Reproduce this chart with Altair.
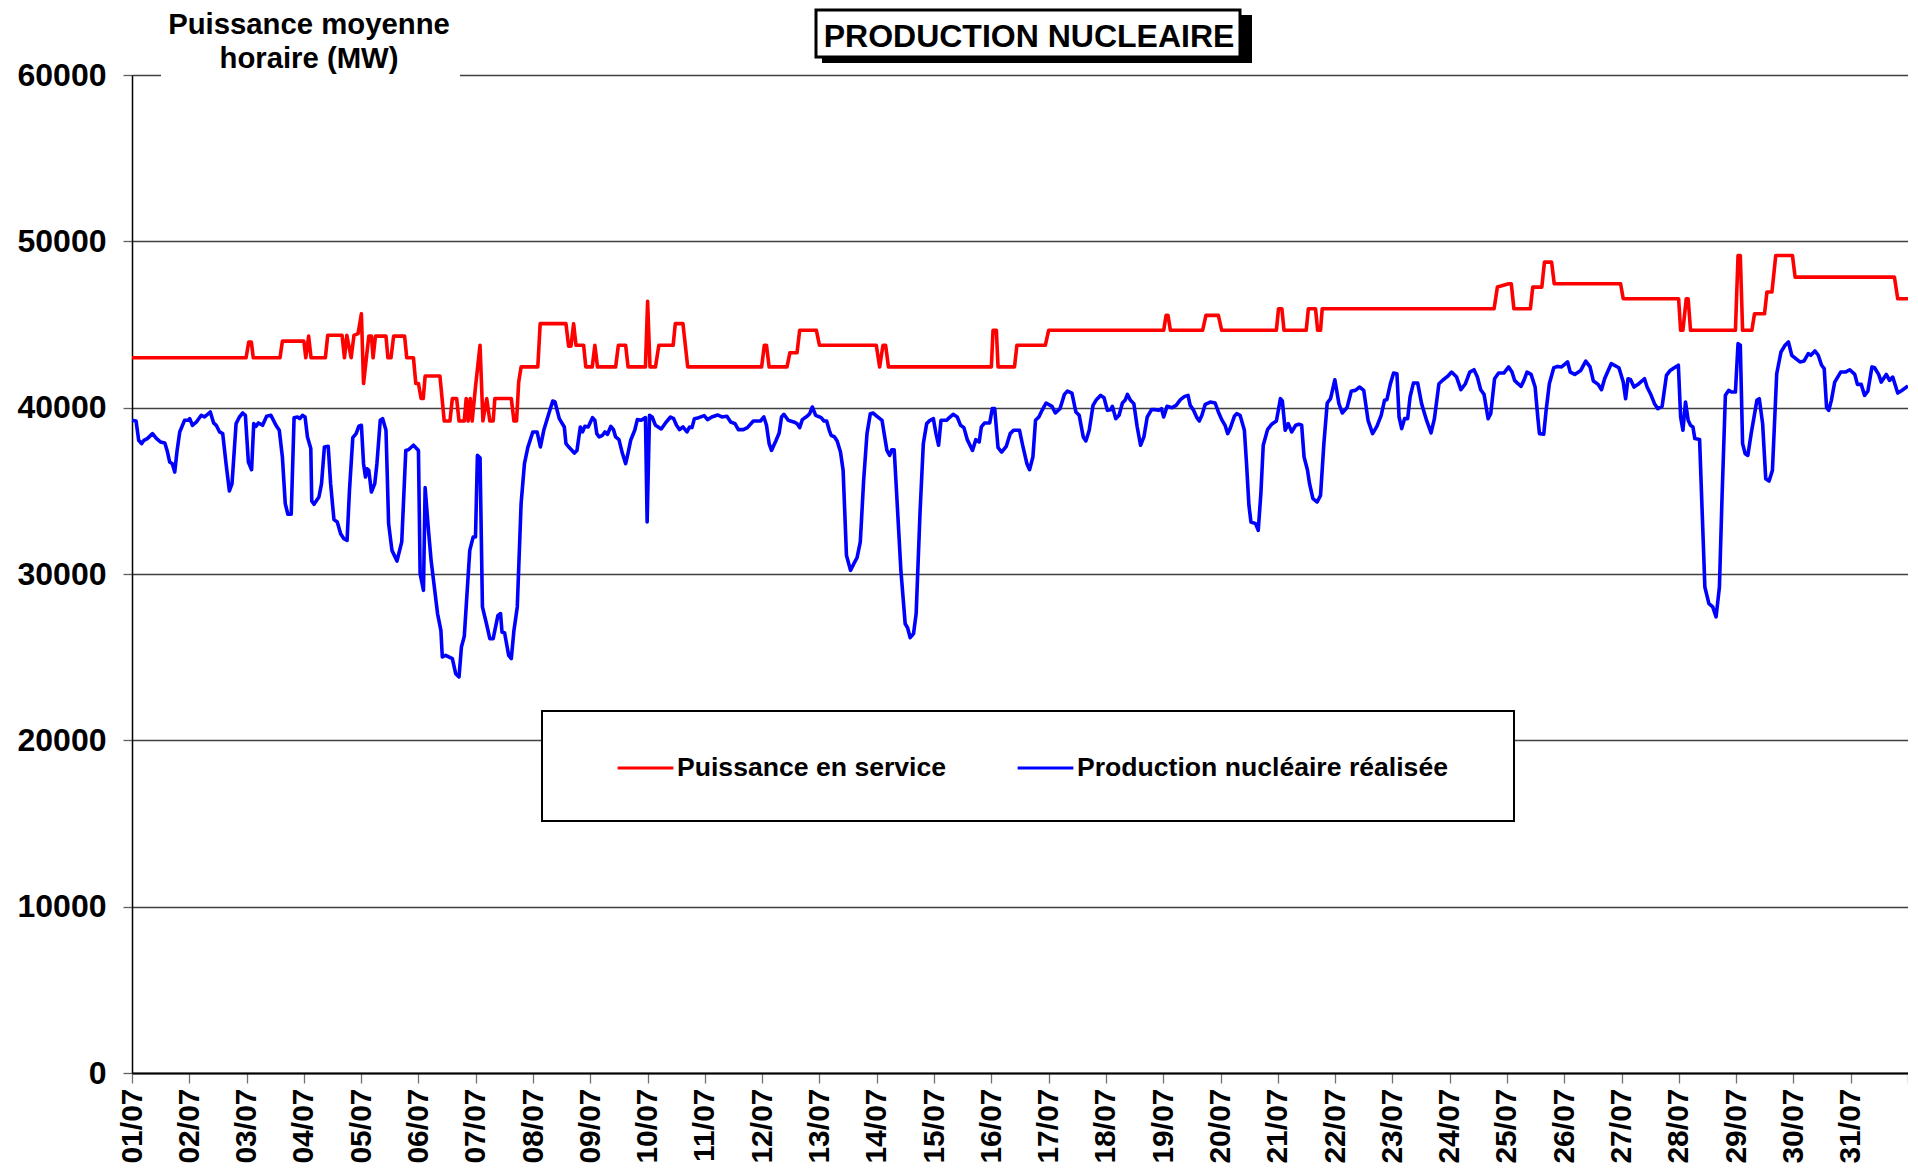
import altair as alt
import pandas as pd

# ---------------- data (hours since 01/07 00:00, MW) ----------------
RED_H = [0, 47.8, 48.9, 50, 50.8, 62, 63, 72, 72.8, 74, 75, 81, 82, 88, 89, 90, 91.8, 93, 94.7,
         96.1, 97, 99.2, 100.3, 101, 102, 106.4, 107.2, 108.5, 109.6, 114.2, 115.1, 117.9, 118.9,
         120, 121.1, 122, 122.8, 129, 130.8, 133.2, 134.2, 136, 137, 139.2, 140, 140.8, 141.7,
         142.5, 143.9, 145.8, 147, 148.6, 149.9, 151.3, 152, 158.9, 160, 161.1, 162, 163, 170,
         171, 181.8, 182.9, 183.9, 185, 186, 189.2, 190.1,
         192.8, 193.9, 195, 202.6, 203.75, 206.8, 207.8, 215.1, 216, 217, 219.3, 220.7, 226.7,
         227.6, 230.8, 232.8, 263.75, 264.9, 265.8, 266.9, 274.4, 275.6, 278.6, 279.7, 286.7, 288,
         311.8, 313.2, 314.6, 315.7, 316.9, 360, 360.7, 362.1, 362.8, 369.7, 370.7, 382.6, 384,
         432.2, 433.2, 434, 435, 448.5, 449.9, 455.1, 456.5, 479.4, 480.3,
         481.7, 482.6, 491.9, 492.8, 495.8, 496.7, 497.9, 498.6, 570.6, 572,
         576.7, 577.8, 578.9, 585.8, 586.8, 590.6, 591.7, 594.7, 595.8, 623.6, 624.7, 647.9,
         648.75, 649.7, 651.1, 651.9, 652.9, 671.7, 672.8, 673.75, 674.7, 678.6, 679.7, 683.9,
         684.9, 687, 688.6, 695.6, 696.7, 738.3, 739.7, 744]
RED_V = [43000, 43000, 43950, 43950, 43000, 43000, 44000, 44000, 43000, 44300, 43000, 43000, 44350,
         44350, 43000, 44350, 43000, 44350, 44450,
         45650, 41450, 44300, 44300, 43000, 44300, 44300, 43000, 43000, 44300, 44300, 43000, 43000,
         41450, 41450, 40550, 40550, 41900, 41900, 39200, 39200, 40550, 40550, 39200, 39200, 40550,
         39200, 40550, 39200, 41250, 43750, 39200, 40550, 39200, 39200, 40550, 40550, 39200, 39200,
         41550, 42450, 42450, 45050, 45050, 43700, 43700, 45050, 43750, 43750, 42450,
         42450, 43750, 42450, 42450, 43750, 43750, 42450, 42450, 46400, 42450, 42450, 43750, 43750,
         45050, 45050, 42450, 42450, 43750, 43750, 42450, 42450, 43300, 43300, 44650, 44650, 43750,
         43750, 42450, 43750, 43750, 42450, 42450, 44650, 44650, 42450, 42450, 43750, 43750, 44650,
         44650, 45550, 45550, 44650, 44650, 45550, 45550, 44650, 44650, 45950,
         45950, 44650, 44650, 45950, 45950, 44650, 44650, 45950, 45950, 47250,
         47450, 47450, 45950, 45950, 47250, 47250, 48750, 48750, 47450, 47450, 46550, 46550,
         44650, 44650, 46550, 46550, 44650, 44650, 49150, 49150, 44650, 44650, 45650, 45650,
         46950, 46950, 49150, 49150, 47850, 47850, 46550, 46550]

BLUE_H = [0, 1.7, 2.8, 4, 5, 6.4, 8.6, 10.3, 11.9, 13.75, 14.7, 15.8, 16.9, 17.9, 18.9, 20, 22,
          23.5, 24.2, 25.3, 27, 29, 30.4, 32.8, 34.2, 35.3, 36.7, 38, 39.4, 40.8, 41.9, 43.6, 45,
          46.4, 47.5, 48.75, 50.1, 51, 51.9, 53, 54.7, 56.4, 58.2, 60.3, 61.7, 63, 64.2, 65.3, 66.7,
          67.9, 69.3, 70.3, 71.4, 72.5, 73.5, 74.9, 75.3, 76.25, 78.3, 79.4, 80.6, 82.2, 83.2, 84.6,
          86, 87.4, 88.75, 90.1, 91.1, 92.5, 93.9, 95,
          96.1, 97, 97.8, 98.5, 99.2, 100.3, 101.7, 102.6, 104, 105, 106.4, 107.5, 108.9, 111, 113,
          114.7, 115.8, 117.9, 120, 120.7, 122.1, 122.8, 124.2, 125.3, 128, 129.4, 130, 131.4, 134.2,
          135.6, 137, 138, 139.2, 141.5, 142.9, 143.9, 144.7, 145.8, 146.8, 148.5, 149.9, 151.3,
          153.3, 154.4, 155, 156.1, 157.8, 158.9, 160, 161.4, 163, 164.4, 165.8, 167.9, 169.7, 171.1,
          172.5, 174.4, 176.25, 177.2, 179, 181.1, 181.8, 183.2, 185.3, 186.4, 187.8, 188.75, 189.7,
          191.1,
          192.9, 193.9, 194.7, 195.7, 197.1, 198.1, 199.2, 200.6, 201.7, 202.6, 204, 205.4, 206.8,
          207.8, 208.9, 210.6, 211.7, 213.3, 215.1, 215.8, 216.8, 217.9, 219.3, 221.7, 223.5, 225.6,
          226.9, 228.1, 229.4, 230.8, 232.5, 233.6, 234.6, 235.6, 237.4, 239.7, 241.1, 242.9, 245.3,
          247.1, 249.2, 250.8, 252.6, 254, 256.1, 257.8, 260.3, 263.3, 264.7, 265.8, 266.9, 267.9,
          269.7, 271.1, 272.1, 273.1, 274.9, 277.2, 278.6, 279.7, 280.8, 282.8, 283.9, 285, 286.4,
          288.7, 289.9, 291, 292.1, 292.9, 294.3, 295.4, 296.8, 297.9, 299.3, 301, 302.4, 303.75,
          305.1, 306.5, 307.9, 309.3, 310.4, 312.1, 314.2, 315.1, 316.25, 317.4, 318.3, 319.3, 320.4,
          322.1, 323.9, 324.9, 326, 327.4, 328.5, 330.1, 331.5, 332.9, 334.3, 335.7, 336.8, 337.9,
          338.9, 341.25, 342.4, 344, 345.7, 347.1, 348.5, 349.9, 352.1, 353.5, 354.9, 355.8, 357.2,
          359.3, 360.4, 361.4, 362.8, 364.3, 366.25, 367.9, 369.3, 371.8, 373.2, 374.9, 376, 377.4,
          378.5, 379.9, 381.25, 382.9,
          385.4, 386.8, 388.75, 390.6, 391.9, 393.75, 395.4, 396.8, 398.5, 399.6, 401, 402.6, 404,
          405.8, 407.2, 408.6, 410, 410.7, 412.1, 413.5, 414.9, 416, 417, 418.3, 419.7, 421.1, 422.5,
          423.9, 425.3, 427.1, 428.75, 430.1, 431.25, 432.2, 433.6, 435.7, 437.4, 439.2, 441, 442.4,
          443.3, 444.7, 446.1, 447.1, 448.2, 449.6, 451.7, 453.75, 455.1, 456.5, 457.9, 459, 460,
          461.8, 462.8, 464.2, 466, 466.9, 467.9, 468.75, 470.7, 471.8, 472.9, 473.9, 475.7, 477.4,
          479.4,
          481.1, 481.9, 483.1, 484.4, 485.8, 487.5, 488.9, 490, 491, 492.4, 493.3, 494.7, 496.5,
          497.9, 499.3, 500.7, 502.1, 503.9, 505.6, 507, 509, 510.8, 512.5, 514.2, 516, 517.8, 519.7,
          521.5, 523.3, 524.7, 525.7, 527.1, 528.5, 529.9, 530.8, 531.9, 533.1, 534.4, 535.4, 536.8,
          538.6, 540.3, 542.4, 544.2, 545.6, 547.5, 549.3, 551.1, 552.8, 554.9, 556.7, 558.6, 560.4,
          562.2, 563.6, 565, 566.4, 568.1, 569.2, 570.8, 572.5, 574.7,
          576.7, 578.1, 579.2, 580.6, 581.9, 583.1, 584.4, 586.1, 587.8, 588.9, 589.6, 591.4, 592.4,
          593.75, 595.6, 597.2, 598.9, 601.4, 602.5, 604.4, 606.9, 609, 610.8, 612.2, 614.2, 615.6,
          616.9, 619.7, 622.9, 624.7, 625.7, 626.7, 627.8, 629.2, 631.25, 633.6, 634.7, 636.1, 637.8,
          639.2, 641, 642.8, 644.4, 646.1,
          647.8, 648.75, 649.7, 650.8, 651.9, 652.9, 653.9, 654.7, 656.7, 657.8, 658.9, 660.6, 662.2,
          663.6, 665, 666.1, 667.5, 668.9, 670, 671.7, 672.8, 673.75, 674.7, 675.8, 676.9, 678.3,
          680.7, 681.7, 683.1, 684.4, 685.8, 687.2, 689, 690.8, 692.5, 693.9, 695.3, 697, 698.75,
          700.5, 702.2, 703.3, 705, 706.4, 707.8, 708.9, 709.9, 710.8, 711.9, 713.3, 715.8, 717.8,
          719.6, 721.7, 722.8, 724.4, 725.8, 727.2, 728.9, 730, 731.7, 732.8, 734.9, 736.25, 737.6,
          739.7, 741.1, 744]
BLUE_V = [39240, 39200, 38040, 37840, 38040, 38140, 38440, 38140, 37940, 37880, 37430, 36730, 36630,
          36130, 37430, 38540, 39240, 39240, 39340, 38940, 39140, 39540, 39440, 39740, 39080, 38940,
          38540, 38440, 36630, 34990, 35430, 39040, 39440, 39680, 39540, 36730, 36270, 39040, 38880,
          39080, 38940, 39480, 39540, 38940, 38640, 37030, 34230, 33590, 33590, 39400, 39440, 39340,
          39540, 39440, 38240, 37540, 34390, 34190, 34630, 35430, 37640, 37680, 35430, 33270, 33130,
          32420, 32120, 32020, 35030, 38200, 38440, 38880,
          38940, 36630, 35830, 36330, 36230, 34930, 35430, 36630, 39240, 39340, 38640, 33030, 31420,
          30780, 31930, 37430, 37470, 37740, 37430, 30020, 29020, 35190, 32620, 30820, 27620, 26610,
          25010, 25110, 24910, 24010, 23810, 25610, 26250, 31420, 32220, 32220, 37130, 36990, 28020,
          27010, 26110, 26110, 27510, 27620, 26510, 26450, 25110, 24910, 26610, 28020, 34230, 36630,
          37600, 38540, 38540, 37640, 38640, 39540, 40400, 40340, 39340, 38840, 37840, 37600, 37270,
          37430, 38840, 38540, 38880, 38840,
          39400, 39240, 38440, 38240, 38340, 38540, 38400, 38880, 38680, 38240, 38080, 37270, 36630,
          37270, 38040, 38640, 39280, 39240, 39400, 33130, 39540, 39440, 38940, 38720, 39080, 39440,
          39340, 38940, 38680, 38840, 38540, 38840, 38800, 39340, 39400, 39520, 39280, 39440, 39560,
          39440, 39480, 39140, 39040, 38680, 38680, 38800, 39200, 39200, 39440, 38940, 37840, 37430,
          38000, 38480, 39440, 39600, 39240, 39140, 39040, 38800, 39280, 39480, 39640, 40040, 39540,
          39400, 39200, 39200, 38640, 38340, 38240, 38000, 37330, 36230, 31120, 30220, 30620, 30980,
          31930, 35630, 38440, 39640, 39680, 39480, 39240, 38440, 37430, 37130, 37470, 37470, 34630,
          30220, 27010, 26770, 26170, 26410, 27620, 33630, 37840, 39040, 39240, 39340, 38440, 37740,
          39240, 39240, 39400, 39600, 39440, 38940, 38800, 38080, 37430, 38080, 37940, 38840, 39080,
          39080, 39940, 39940, 37600, 37330, 37680, 38440, 38640, 38640, 37680, 36630, 36270, 37030,
          39240, 39440, 39840, 40280,
          40080, 39680, 39940, 40800, 41000, 40880, 39740, 39540, 38240, 38000, 38640, 40140, 40480,
          40740, 40600, 39840, 39880, 40080, 39340, 39540, 40280, 40440, 40800, 40440, 40240, 38840,
          37740, 38240, 39440, 39880, 39880, 39840, 39940, 39440, 40080, 40000, 40140, 40480, 40680,
          40740, 40140, 39840, 39400, 39200, 39540, 40200, 40340, 40280, 39740, 39280, 38940, 38440,
          38740, 39480, 39640, 39540, 38640, 36630, 34130, 33130, 33030, 32620, 34830, 37740, 38680,
          39000, 39200,
          40540, 40400, 38640, 39040, 38540, 38940, 39000, 38940, 37030, 36270, 35430, 34530, 34330,
          34730, 37840, 40280, 40540, 41680, 40240, 39680, 40000, 41000, 41040, 41240, 41040, 39240,
          38440, 38880, 39540, 40440, 40480, 41400, 42080, 42040, 39440, 38740, 39340, 39340, 40640,
          41480, 41480, 40200, 39200, 38480, 39340, 41440, 41680, 41880, 42140, 41840, 41080, 41440,
          42140, 42280, 41840, 41080, 40800, 39340, 39640, 41740, 42080, 42080,
          42450, 42140, 41640, 41440, 41280, 41640, 42140, 42000, 41240, 39440, 38440, 38400, 39840,
          41440, 42400, 42480, 42450, 42750, 42140, 42000, 42240, 42800, 42450, 41600, 41400, 41080,
          41740, 42650, 42400, 41550, 40540, 41740, 41680, 41240, 41440, 41740, 41240, 40840, 40240,
          39940, 40080, 41940, 42240, 42400,
          42550, 39440, 38640, 40340, 39240, 38940, 38840, 38140, 38080, 33630, 29220, 28220, 28020,
          27420, 29220, 34630, 40740, 41040, 40940, 40940, 43850, 43750, 37840, 37230, 37130, 38440,
          40440, 40540, 39040, 35730, 35590, 36230, 42040, 43350, 43750, 43950, 43150, 42950, 42750,
          42810, 43250, 43150, 43410, 43150, 42550, 42350, 40000, 39840, 40440, 41540, 42140, 42140,
          42280, 42000, 41400, 41400, 40740, 41000, 42450, 42400, 42000, 41540, 42000, 41640, 41840,
          40880, 41000, 41300]

SERIES = ["Puissance en service", "Production nucléaire réalisée"]
COLORS = ["#FF0000", "#0000FF"]
DAY_LABELS = ["01/07", "02/07", "03/07", "04/07", "05/07", "06/07", "07/07", "08/07", "09/07",
              "10/07", "11/07", "12/07", "13/07", "14/07", "15/07", "16/07", "17/07", "18/07",
              "19/07", "20/07", "21/07", "22/07", "23/07", "24/07", "25/07", "26/07", "27/07",
              "28/07", "29/07", "30/07", "31/07"]
DAY_TICKS = [24 * i for i in range(32)]
Y_TICKS = [0, 10000, 20000, 30000, 40000, 50000, 60000]
TITLE = "PRODUCTION NUCLEAIRE"
Y_TITLE = ["Puissance moyenne", "horaire (MW)"]

FONT = "Arial, Liberation Sans, sans-serif"
W, H = 1776, 998

df = pd.concat([
    pd.DataFrame({"h": RED_H, "v": RED_V, "serie": SERIES[0], "k": 0}),
    pd.DataFrame({"h": BLUE_H, "v": BLUE_V, "serie": SERIES[1], "k": 1}),
], ignore_index=True)

label_arr = "[" + ",".join("'%s'" % s for s in DAY_LABELS) + "]"
label_expr = "datum.value < 744 ? %s[round(datum.value / 24)] : ''" % label_arr

x_enc = alt.X("h:Q",
              scale=alt.Scale(domain=[0, 744], nice=False, zero=False),
              axis=alt.Axis(values=DAY_TICKS, labelExpr=label_expr, labelAngle=270,
                            labelFont=FONT, labelFontSize=30, labelFontWeight="bold",
                            labelColor="black", labelPadding=5, labelFlush=False,
                            labelOverlap=False, labelBound=False, tickSize=10,
                            tickColor="#707070", tickWidth=1.3, domainColor="black",
                            domainWidth=2, grid=False, title=None))
y_enc = alt.Y("v:Q",
              scale=alt.Scale(domain=[0, 60000], nice=False),
              axis=alt.Axis(values=Y_TICKS, format="d", labelFont=FONT, labelFontSize=32,
                            labelFontWeight="bold", labelColor="black", labelPadding=17,
                            labelFlush=False, labelOverlap=False, tickSize=9,
                            tickColor="#606060", tickWidth=1.3, domainColor="black",
                            domainWidth=1.5, grid=True, gridColor="#404040", gridWidth=1.3,
                            title=None))

lines = alt.Chart(df).mark_line(strokeWidth=3.6, strokeJoin="round").encode(
    x=x_enc, y=y_enc,
    color=alt.Color("serie:N",
                    scale=alt.Scale(domain=SERIES, range=COLORS),
                    legend=alt.Legend(orient="none", legendX=484, legendY=663,
                                      direction="horizontal", title=None,
                                      symbolType="stroke", symbolSize=3100,
                                      symbolStrokeWidth=3, labelFont=FONT,
                                      labelFontSize=26.6, labelFontWeight="bold",
                                      labelColor="black", labelLimit=900, labelOffset=2,
                                      columnPadding=64, padding=0, offset=0)),
    detail="k:N",
)

one = alt.Data(values=[{"a": 1}])

legend_box = alt.Chart(one).mark_rect(fill="white", stroke="black", strokeWidth=2).encode(
    x=alt.value(410), x2=alt.value(1382), y=alt.value(636), y2=alt.value(746))

white_patch = alt.Chart(one).mark_rect(fill="white").encode(
    x=alt.value(29), x2=alt.value(328), y=alt.value(-75), y2=alt.value(6))

ytitle1 = alt.Chart(one).mark_text(font=FONT, fontSize=29.3, fontWeight="bold", align="center",
                                   baseline="alphabetic", color="black").encode(
    x=alt.value(177), y=alt.value(-41), text=alt.value(Y_TITLE[0]))
ytitle2 = alt.Chart(one).mark_text(font=FONT, fontSize=29.3, fontWeight="bold", align="center",
                                   baseline="alphabetic", color="black").encode(
    x=alt.value(177), y=alt.value(-7), text=alt.value(Y_TITLE[1]))

title_shadow = alt.Chart(one).mark_rect(fill="black").encode(
    x=alt.value(690), x2=alt.value(1120), y=alt.value(-60), y2=alt.value(-12))
title_box = alt.Chart(one).mark_rect(fill="white", stroke="black", strokeWidth=3).encode(
    x=alt.value(684), x2=alt.value(1108), y=alt.value(-65), y2=alt.value(-18))
title_text = alt.Chart(one).mark_text(font=FONT, fontSize=32, fontWeight="bold", align="center",
                                      baseline="alphabetic", color="black").encode(
    x=alt.value(897), y=alt.value(-28), text=alt.value(TITLE))

chart = alt.layer(
    lines, legend_box, white_patch, ytitle1, ytitle2, title_shadow, title_box, title_text
).properties(
    width=W, height=H,
    autosize=alt.AutoSizeParams(type="none"),
    padding={"left": 124, "top": 67, "right": 0, "bottom": 92},
    background="white",
).configure_view(stroke=None)

chart.save("out.html", embed_options={"renderer": "svg", "actions": False})
